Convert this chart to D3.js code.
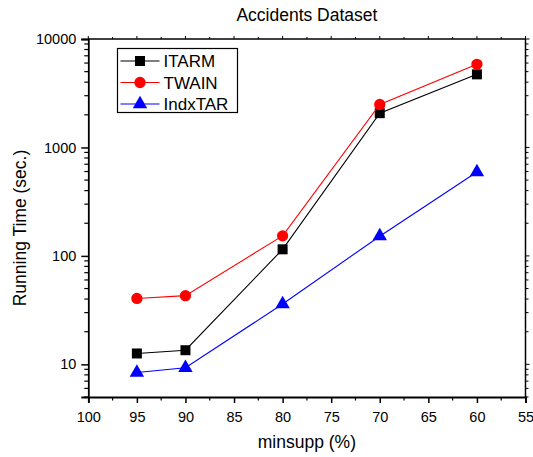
<!DOCTYPE html>
<html>
<head>
<meta charset="utf-8">
<script src="https://cdn.jsdelivr.net/npm/d3@7"></script>
<style>
  body { margin: 0; background: #fff; }
  text { font-family: Arial, "Liberation Sans", sans-serif; }
</style>
</head>
<body>
<div id="chart"></div>
<script>
const minsupp = [95, 90, 80, 70, 60];
const itarm = [12.6, 13.5, 115, 2070, 4720];
const twain = [40.5, 43, 153, 2490, 5840];
const indxtar = [8.4, 9.3, 36, 152, 593];
const xTicks = [100, 95, 90, 85, 80, 75, 70, 65, 60, 55];
const yTicks = [10, 100, 1000, 10000];

const series = [
  {name: 'ITARM', values: itarm, color: '#000000', shape: d3.symbolSquare, size: 100},
  {name: 'TWAIN', values: twain, color: '#ff0000', shape: d3.symbolCircle, size: 100},
  {name: 'IndxTAR', values: indxtar, color: '#0000ff', shape: d3.symbolTriangle, size: 90},
];

const W = 533, H = 457;
const margin = {top: 39, right: 7.5, bottom: 60, left: 88.3};
const width = W - margin.left - margin.right,
      height = H - margin.top - margin.bottom;

const svg = d3.select('#chart').append('svg')
  .attr('width', W).attr('height', H);
const g = svg.append('g')
  .attr('transform', `translate(${margin.left},${margin.top})`);

const x = d3.scaleLinear().domain([100, 55]).range([0, width]);
const y = d3.scaleLog().domain([5, 10000]).range([height, 0]);

// minor ticks
const xMinor = d3.range(100, 54, -2.5).filter(v => v % 5 !== 0);
const yMinor = [];
[1, 10, 100, 1000].forEach(p => {
  for (let k = 2; k <= 9; k++) { const v = k * p; if (v >= 5 && v < 10000) yMinor.push(v); }
});

// bottom axis
const xAxis = g.append('g').attr('transform', `translate(0,${height})`)
  .call(d3.axisBottom(x).tickValues(xTicks).tickSize(6).tickPadding(9).tickFormat(d3.format('d')));
xAxis.select('.domain').attr('stroke-width', 1.8);
xAxis.selectAll('.tick line').attr('stroke-width', 1.5);
xAxis.selectAll('text').attr('font-size', 14.5).attr('fill', '#000');
g.append('g').attr('transform', `translate(0,${height})`)
  .selectAll('line').data(xMinor).join('line')
  .attr('x1', d => x(d)).attr('x2', d => x(d)).attr('y1', 0).attr('y2', 3.5)
  .attr('stroke', '#000').attr('stroke-width', 1.2);

// left axis
const yAxis = g.append('g')
  .call(d3.axisLeft(y).tickValues(yTicks).tickSize(7).tickPadding(5).tickFormat(d3.format('d')));
yAxis.select('.domain').attr('stroke-width', 1.8);
yAxis.selectAll('.tick line').attr('stroke-width', 1.5);
yAxis.selectAll('text').attr('font-size', 14.5).attr('fill', '#000');
g.append('g').selectAll('line').data(yMinor).join('line')
  .attr('x1', 0).attr('x2', -4).attr('y1', d => y(d)).attr('y2', d => y(d))
  .attr('stroke', '#000').attr('stroke-width', 1.2);

// top and right mirror axes
g.append('line').attr('x1', 0).attr('x2', width).attr('y1', 0).attr('y2', 0)
  .attr('stroke', '#000').attr('stroke-width', 1.5);
g.append('line').attr('x1', width).attr('x2', width).attr('y1', 0).attr('y2', height)
  .attr('stroke', '#000').attr('stroke-width', 1.5);
g.append('g').selectAll('line').data(xTicks.concat(xMinor)).join('line')
  .attr('x1', d => x(d)).attr('x2', d => x(d)).attr('y1', 0).attr('y2', d => d % 5 === 0 ? -3 : -2)
  .attr('stroke', '#000').attr('stroke-width', 1);
g.append('g').selectAll('line').data(yTicks.concat(yMinor)).join('line')
  .attr('x1', width).attr('x2', d => width + (yTicks.includes(d) ? 4 : 3)).attr('y1', d => y(d)).attr('y2', d => y(d))
  .attr('stroke', '#000').attr('stroke-width', 1);

// lines and markers
const line = d3.line().x((d, i) => x(minsupp[i])).y(d => y(d));
series.forEach(s => {
  g.append('path').datum(s.values)
    .attr('d', line).attr('fill', 'none')
    .attr('stroke', s.color).attr('stroke-width', 1.1);
  g.append('g').selectAll('path').data(s.values).join('path')
    .attr('d', d3.symbol().type(s.shape).size(s.size))
    .attr('transform', (d, i) => `translate(${x(minsupp[i])},${y(d)})`)
    .attr('fill', s.color);
});

// legend
const legend = svg.append('g').attr('transform', 'translate(117.5,48.5)');
legend.append('rect').attr('width', 120).attr('height', 64)
  .attr('fill', '#fff').attr('stroke', '#000').attr('stroke-width', 1.2);
series.forEach((s, i) => {
  const ly = 12.5 + i * 21.5;
  legend.append('line').attr('x1', 3).attr('x2', 42).attr('y1', ly).attr('y2', ly)
    .attr('stroke', s.color).attr('stroke-width', 1.1);
  legend.append('path').attr('d', d3.symbol().type(s.shape).size(s.size))
    .attr('transform', `translate(22.5,${ly})`).attr('fill', s.color);
  legend.append('text').attr('x', 46).attr('y', ly).attr('dy', '0.36em')
    .attr('font-size', 17).text(s.name);
});

// titles
svg.append('text').attr('x', margin.left + width / 2).attr('y', 21)
  .attr('text-anchor', 'middle').attr('font-size', 17.5).text('Accidents Dataset');
svg.append('text').attr('x', margin.left + width / 2).attr('y', 448)
  .attr('text-anchor', 'middle').attr('font-size', 17.5).text('minsupp (%)');
svg.append('text')
  .attr('transform', 'translate(26,228) rotate(-90)')
  .attr('text-anchor', 'middle').attr('font-size', 17.5).text('Running Time (sec.)');
</script>
</body>
</html>
